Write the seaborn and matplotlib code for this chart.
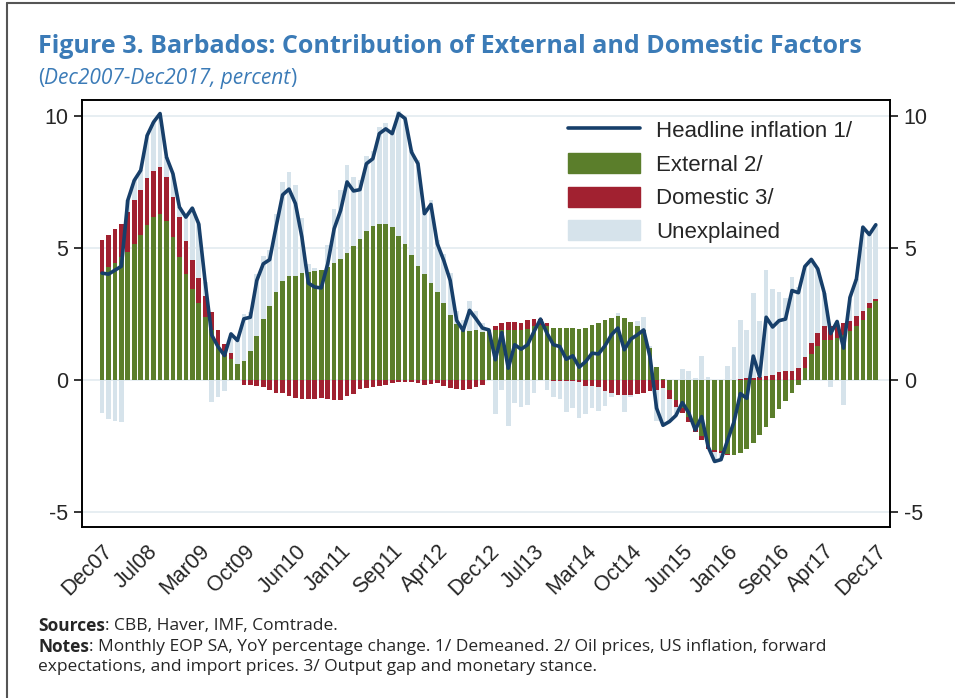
import matplotlib
matplotlib.use("Agg")
import matplotlib.pyplot as plt
import matplotlib.patches as mpatches
from matplotlib.lines import Line2D
import numpy as np
import pandas as pd
import seaborn as sns

# monthly data, Dec2007 - Dec2017 (percent)
months = pd.date_range("2007-12-01", "2017-12-01", freq="MS")

headline = [
    4.04, 4.00, 4.15, 4.30, 6.80, 7.55, 7.93, 9.25, 9.76, 10.08,
    8.43, 7.80, 6.54, 6.16, 6.50, 5.90, 3.70, 1.70, 1.25, 0.92,
    1.74, 1.49, 2.31, 2.37, 3.76, 4.39, 4.55, 5.80, 7.00, 7.22,
    6.67, 5.40, 3.66, 3.51, 3.48, 4.39, 5.72, 6.41, 7.49, 7.15,
    7.20, 8.18, 8.37, 9.32, 9.50, 9.32, 10.08, 9.89, 8.62, 8.18,
    6.29, 6.64, 5.15, 4.52, 3.76, 2.25, 1.87, 2.63, 2.31, 1.96,
    1.89, 0.76, 1.79, 0.44, 1.33, 1.16, 1.33, 1.83, 2.30, 1.77,
    1.33, 1.26, 0.78, 0.91, 0.48, 0.69, 1.01, 0.98, 1.29, 1.70,
    1.96, 1.14, 1.54, 1.70, 1.89, 0.85, -1.07, -1.72, -1.58, -1.35,
    -0.86, -1.25, -1.90, -1.39, -2.53, -3.09, -3.02, -2.30, -1.60, -0.52,
    -0.70, 0.90, 0.13, 2.37, 2.00, 2.24, 2.30, 3.38, 3.30, 4.29,
    4.56, 4.20, 3.30, 1.75, 2.21, 1.20, 3.12, 3.82, 5.78, 5.50,
    5.87,
]
external = [
    4.04, 4.27, 4.42, 4.65, 4.84, 5.13, 5.47, 5.85, 6.16, 6.26,
    6.01, 5.40, 4.65, 4.02, 3.45, 2.90, 2.37, 1.87, 1.30, 0.92,
    0.80, 0.60, 0.70, 1.11, 1.67, 2.30, 2.80, 3.32, 3.76, 3.93,
    3.93, 4.04, 4.08, 4.12, 4.17, 4.27, 4.43, 4.58, 4.80, 5.05,
    5.34, 5.63, 5.82, 5.91, 5.91, 5.78, 5.43, 5.13, 4.71, 4.31,
    4.02, 3.66, 3.31, 2.90, 2.44, 2.10, 1.84, 1.84, 1.87, 1.80,
    1.89, 1.89, 1.87, 1.87, 1.89, 1.89, 1.92, 2.02, 2.08, 2.02,
    1.98, 1.98, 1.98, 1.96, 1.92, 1.98, 2.08, 2.17, 2.27, 2.34,
    2.40, 2.34, 2.20, 2.02, 1.89, 1.20, 0.48, 0.03, -0.38, -0.76,
    -1.07, -1.39, -1.77, -2.12, -2.46, -2.65, -2.71, -2.80, -2.84, -2.78,
    -2.60, -2.40, -2.10, -1.80, -1.45, -1.10, -0.80, -0.50, -0.20, 0.44,
    0.98, 1.29, 1.52, 1.52, 1.58, 1.70, 1.83, 2.05, 2.27, 2.71,
    2.97,
]
domestic = [
    1.26, 1.23, 1.29, 1.26, 1.50, 1.66, 1.73, 1.80, 1.74, 1.80,
    1.67, 1.52, 1.51, 1.23, 1.10, 0.96, 0.79, 0.68, 0.60, 0.44,
    0.20, 0.00, -0.18, -0.18, -0.23, -0.28, -0.38, -0.48, -0.50, -0.63,
    -0.69, -0.72, -0.72, -0.72, -0.69, -0.72, -0.76, -0.76, -0.63, -0.53,
    -0.35, -0.30, -0.28, -0.25, -0.21, -0.13, -0.10, -0.09, -0.09, -0.13,
    -0.18, -0.15, -0.13, -0.25, -0.30, -0.34, -0.40, -0.35, -0.28, -0.20,
    0.00, 0.16, 0.30, 0.33, 0.31, 0.28, 0.35, 0.30, 0.22, 0.13,
    -0.06, -0.06, -0.04, -0.06, -0.10, -0.23, -0.25, -0.28, -0.44, -0.50,
    -0.57, -0.57, -0.57, -0.54, -0.48, -0.44, -0.38, -0.32, -0.35, -0.28,
    -0.19, -0.20, -0.20, -0.17, -0.16, -0.10, -0.06, -0.03, 0.00, 0.05,
    0.06, 0.08, 0.10, 0.13, 0.19, 0.28, 0.34, 0.35, 0.44, 0.44,
    0.40, 0.48, 0.50, 0.50, 0.50, 0.44, 0.38, 0.35, 0.34, 0.19,
    0.09,
]
unexplained = [
    -1.26, -1.50, -1.56, -1.61, 0.46, 0.76, 0.73, 1.60, 1.86, 2.02,
    0.75, 0.88, 0.38, 0.91, 1.95, 2.04, 0.54, -0.85, -0.65, -0.44,
    0.74, 0.89, 1.79, 1.44, 2.32, 2.37, 2.13, 2.96, 3.74, 3.92,
    3.43, 2.08, 0.30, 0.11, 0.00, 0.84, 2.05, 2.59, 3.32, 2.63,
    2.21, 2.85, 2.83, 3.66, 3.80, 3.67, 4.75, 4.85, 4.00, 4.00,
    2.45, 3.13, 1.97, 1.87, 1.62, 0.49, 0.43, 1.14, 0.72, 0.36,
    0.00, -1.29, -0.38, -1.76, -0.87, -1.01, -0.94, -0.49, 0.00, -0.38,
    -0.59, -0.66, -1.16, -0.99, -1.34, -1.06, -0.82, -0.91, -0.54, -0.14,
    0.13, -0.63, -0.09, 0.22, 0.48, 0.09, -1.17, -1.43, -0.85, -0.31,
    0.40, 0.34, 0.07, 0.90, 0.09, -0.34, -0.25, 0.53, 1.24, 2.21,
    1.84, 3.22, 2.13, 4.04, 3.26, 3.06, 2.76, 3.53, 3.06, 3.41,
    3.18, 2.43, 1.28, -0.27, 0.13, -0.94, 0.91, 1.42, 3.17, 2.60,
    2.81,
]
tick_labels = [
    "Dec07", "Jul08", "Mar09", "Oct09", "Jun10", "Jan11", "Sep11", "Apr12",
    "Dec12", "Jul13", "Mar14", "Oct14", "Jun15", "Jan16", "Sep16", "Apr17",
    "Dec17",
]

df = pd.DataFrame(
    {
        "headline": headline,
        "external": external,
        "domestic": domestic,
        "unexplained": unexplained,
    }
)
df["month"] = months.strftime("%b%y")
df["pos"] = np.arange(len(df))

blue_title = "#3b7bb7"
navy = "#173f6a"
colors = {"external": "#5b7e2b", "domestic": "#a12130", "unexplained": "#d6e3eb"}

sns.set_style("white")
plt.rcParams["font.family"] = ["Liberation Sans", "DejaVu Sans"]
plt.rcParams["axes.unicode_minus"] = False

fig = plt.figure(figsize=(9.55, 6.98), dpi=100)
ax = fig.add_axes([0.0859, 0.245, 0.846, 0.612])

# light grid lines
for y in [-5, 0, 5, 10]:
    ax.axhline(y, color="#e3ebf0", lw=1.2, zorder=0)

# stacked bars, positive and negative parts stacked separately
pos_base = np.zeros(len(df))
neg_base = np.zeros(len(df))
for col in ["external", "domestic", "unexplained"]:
    v = df[col].to_numpy()
    up = np.clip(v, 0, None)
    down = np.clip(v, None, 0)
    ax.bar(df["pos"], up, bottom=pos_base, width=0.72, color=colors[col], lw=0, zorder=2)
    ax.bar(df["pos"], down, bottom=neg_base, width=0.72, color=colors[col], lw=0, zorder=2)
    pos_base += up
    neg_base += down

sns.lineplot(data=df, x="pos", y="headline", ax=ax, color=navy, lw=2.6, zorder=4)

ax.set_xlim(-3.1, 122.2)
ax.set_ylim(-5.57, 10.6)
ax.set_xlabel("")
ax.set_ylabel("")

tick_pos = [int(df.loc[df["month"] == t, "pos"].iloc[0]) for t in tick_labels]
ax.set_xticks(tick_pos)
ax.set_xticklabels(tick_labels, rotation=45, ha="right", rotation_mode="anchor")
ax.set_yticks([-5, 0, 5, 10])
ax.tick_params(axis="both", direction="out", length=6, width=1.1, color="black",
               labelsize=15.5, pad=4)

ax2 = ax.twinx()
ax2.set_ylim(ax.get_ylim())
ax2.set_yticks([-5, 0, 5, 10])
ax2.tick_params(axis="y", direction="out", length=6, width=1.1, color="black",
                labelsize=15.5, pad=4)
for a in (ax, ax2):
    for s in a.spines.values():
        s.set_visible(True)
        s.set_color("black")
        s.set_linewidth(1.2)

handles = [
    Line2D([0], [0], color=navy, lw=2.6),
    mpatches.Patch(color=colors["external"]),
    mpatches.Patch(color=colors["domestic"]),
    mpatches.Patch(color=colors["unexplained"]),
]
labels = ["Headline inflation 1/", "External 2/", "Domestic 3/", "Unexplained"]
ax2.legend(handles, labels, loc="upper left", bbox_to_anchor=(0.590, 0.975),
           frameon=False, fontsize=16, handlelength=3.25, handleheight=1.0,
           handletextpad=0.75, labelspacing=0.5, borderaxespad=0)

# titles
title_font = ["Open Sans", "DejaVu Sans"]
fig.text(0.040, 0.933, "Figure 3. Barbados: Contribution of External and Domestic Factors",
         fontsize=18, fontweight="bold", color=blue_title, va="center",
         family=title_font)
p1 = fig.text(0.040, 0.888, "(", fontsize=15, color=blue_title, va="center",
              family=title_font)
p2 = ax.annotate("Dec2007-Dec2017, percent", xy=(1, 0.5), xycoords=p1, va="center",
                 fontsize=15, style="italic", color=blue_title, family=title_font,
                 annotation_clip=False)
ax.annotate(")", xy=(1, 0.5), xycoords=p2, va="center", fontsize=15,
            color=blue_title, family=title_font, annotation_clip=False)

# sources and notes
note_font = ["Open Sans", "DejaVu Sans"]
t1 = fig.text(0.040, 0.103, "Sources", fontsize=12.5, fontweight="bold", va="center",
              family=note_font)
ax.annotate(": CBB, Haver, IMF, Comtrade.", xy=(1, 0.5), xycoords=t1, va="center",
            fontsize=12.5, family=note_font, annotation_clip=False)
t2 = fig.text(0.040, 0.073, "Notes", fontsize=12.5, fontweight="bold", va="center",
              family=note_font)
ax.annotate(": Monthly EOP SA, YoY percentage change. 1/ Demeaned. 2/ Oil prices, "
            "US inflation, forward", xy=(1, 0.5), xycoords=t2, va="center",
            fontsize=12.5, family=note_font, annotation_clip=False)
fig.text(0.040, 0.044, "expectations, and import prices. 3/ Output gap and monetary stance.",
         fontsize=12.5, va="center", family=note_font)

# outer frame lines
fig.add_artist(Line2D([0.007, 0.007], [0, 0.995], transform=fig.transFigure,
                      color="#555555", lw=1.5))
fig.add_artist(Line2D([0.007, 1.0], [0.995, 0.995], transform=fig.transFigure,
                      color="#555555", lw=1.5))

fig.savefig("out.png", dpi=100)
